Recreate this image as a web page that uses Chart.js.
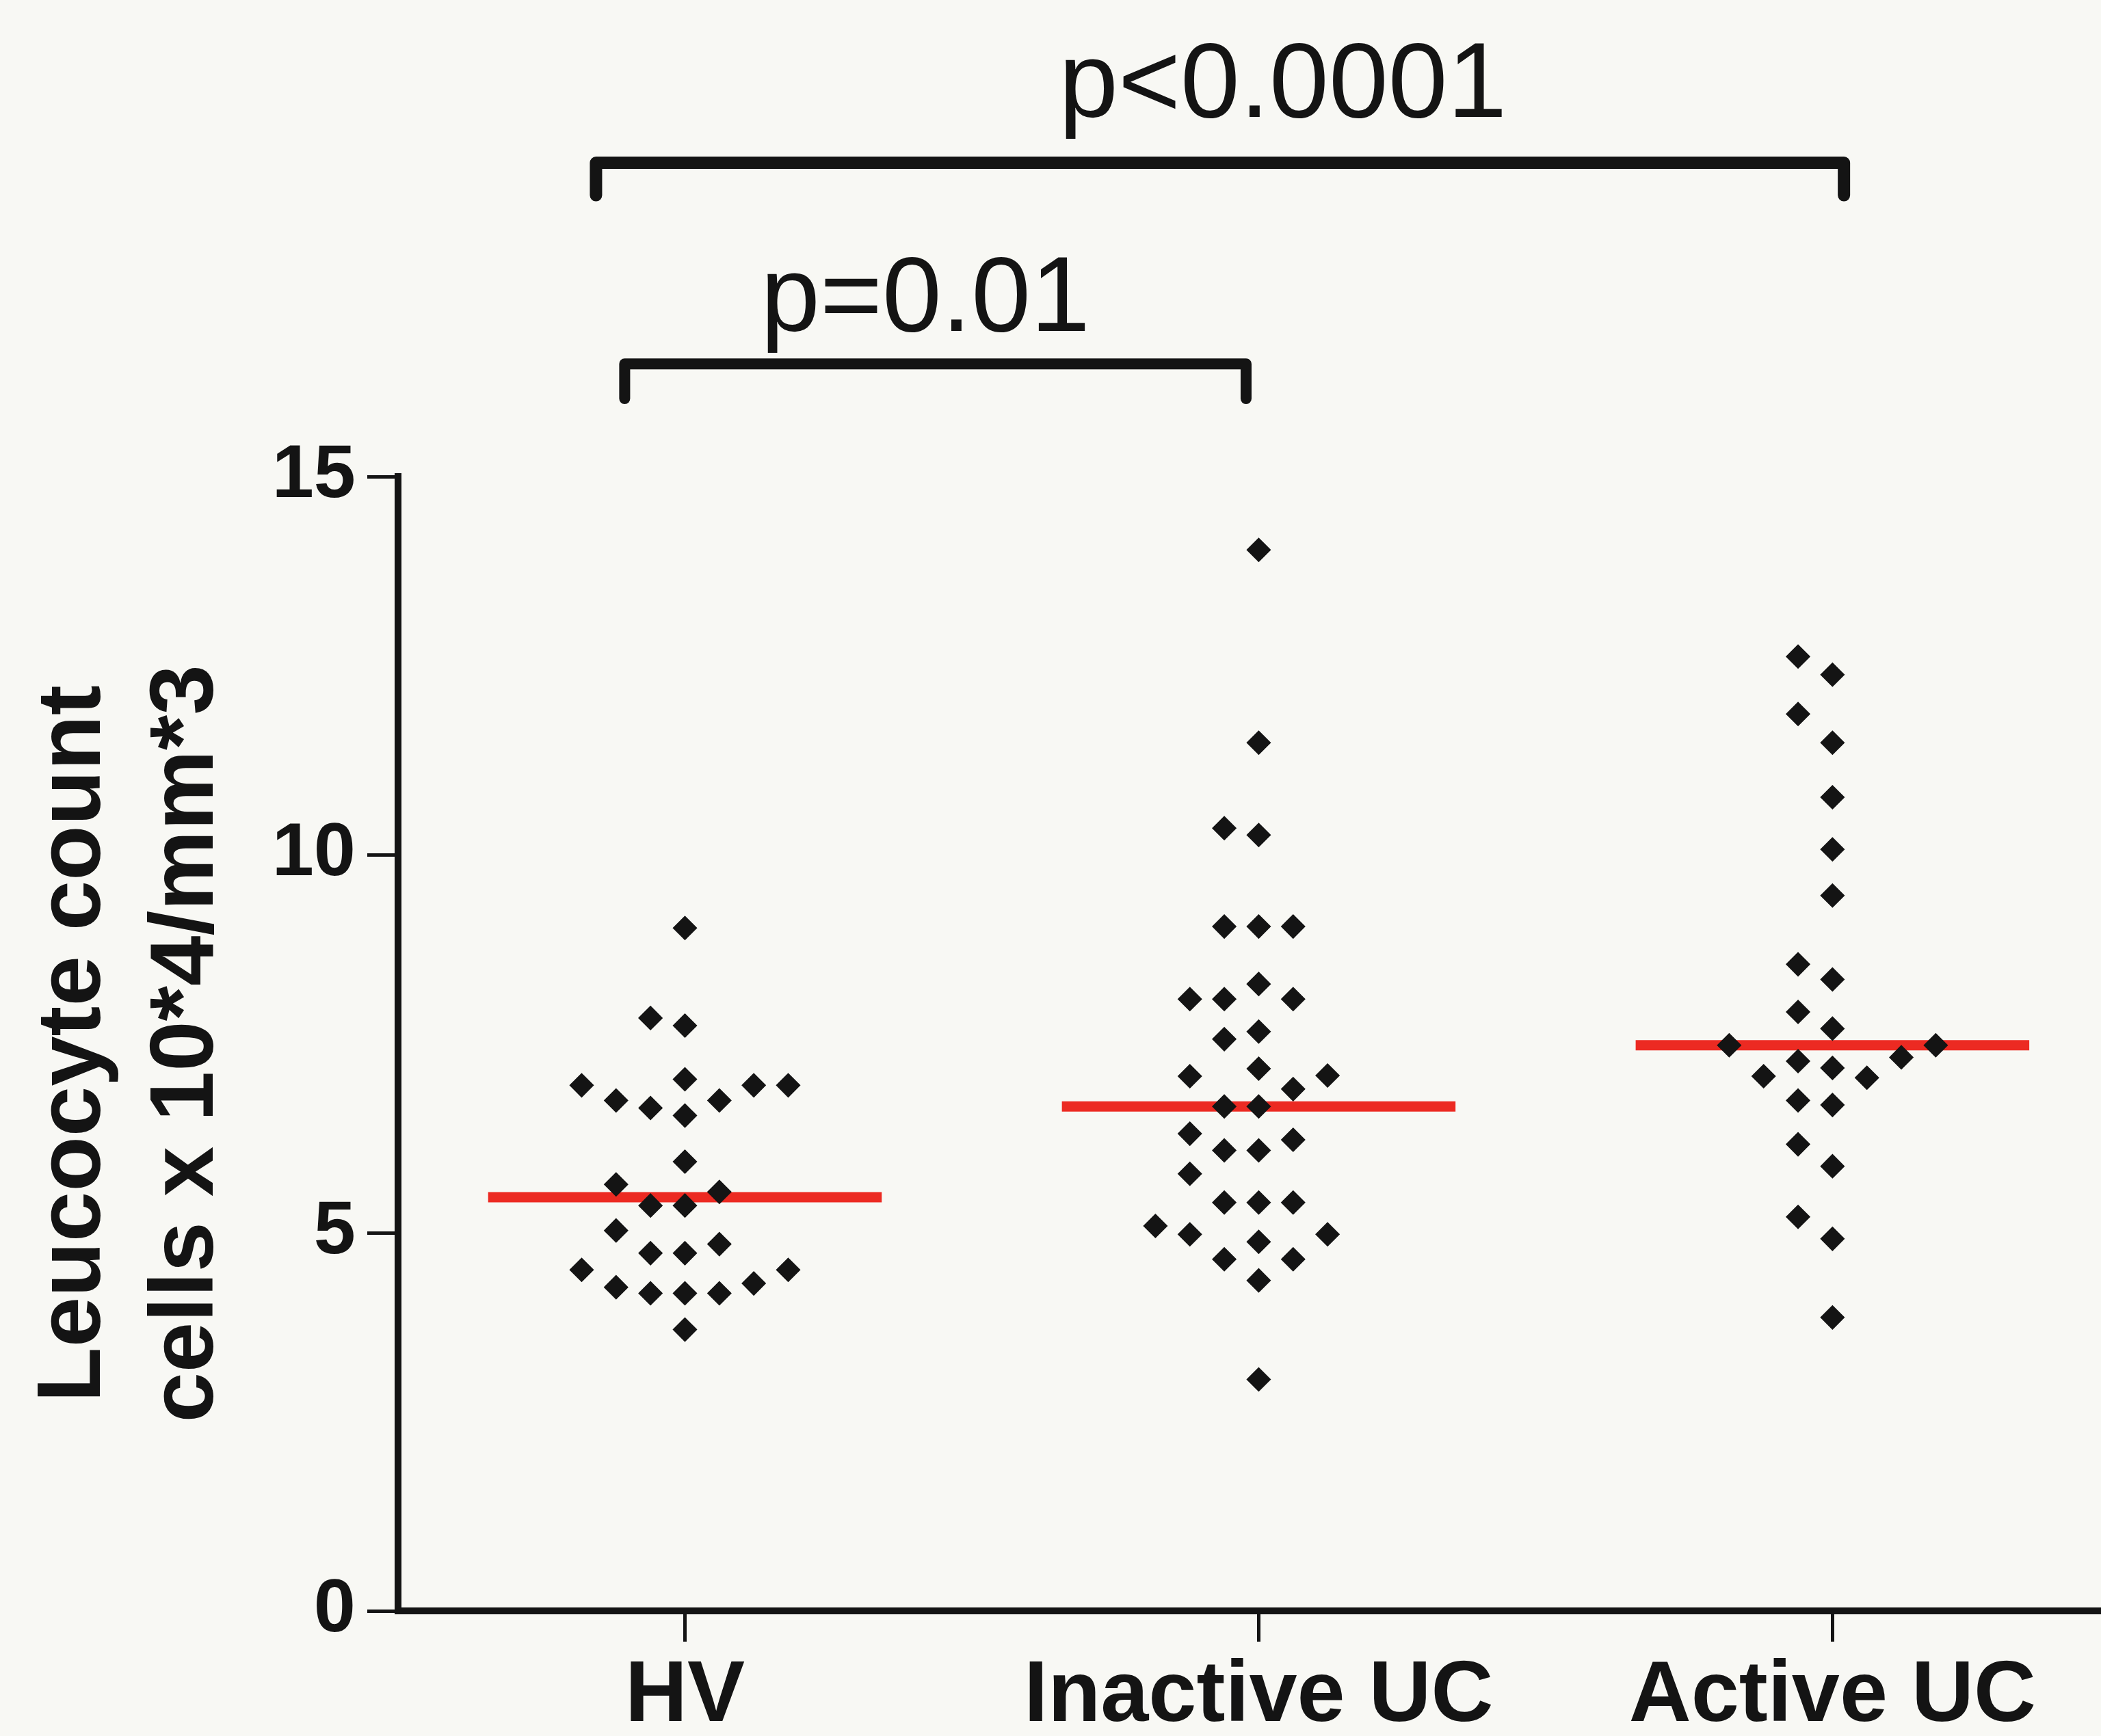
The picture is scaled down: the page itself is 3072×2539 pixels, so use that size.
<!DOCTYPE html>
<html>
<head>
<meta charset="utf-8">
<script src="https://cdn.jsdelivr.net/npm/chart.js@4.4.1/dist/chart.umd.min.js"></script>
<style>
  html, body { margin: 0; padding: 0; background: #f8f8f4; }
  #wrap { width: 3072px; height: 2539px; }
</style>
</head>
<body>
<div id="wrap"><canvas id="chart" width="3072" height="2539"></canvas></div>
<script>
// values (cells x 10^4/mm^3)
var categories = ['HV', 'Inactive UC', 'Active UC'];
var hvValues = [9.03, 7.84, 7.74, 6.95, 7.03, 6.95, 6.95, 6.75, 6.75, 6.65, 6.55, 5.94, 5.64, 5.54,
  5.36, 5.36, 5.03, 4.85, 4.73, 4.73, 4.51, 4.51, 4.28, 4.20, 4.20, 4.20, 4.33, 3.72];
var inactiveValues = [14.03, 11.48, 10.26, 10.35, 9.05, 9.05, 9.05, 8.29, 8.09, 8.09, 8.09, 7.66, 7.56,
  7.07, 7.17, 7.08, 6.90, 6.67, 6.67, 6.31, 6.23, 6.09, 6.09, 5.78, 5.40, 5.40, 5.40, 5.09, 4.98, 4.88,
  4.98, 4.65, 4.65, 4.37, 3.06];
var activeValues = [12.62, 12.38, 11.86, 11.48, 10.76, 10.07, 9.46, 8.55, 8.35, 7.92, 7.70, 7.48, 7.48,
  7.32, 7.18, 7.27, 7.07, 7.05, 6.75, 6.69, 6.17, 5.88, 5.21, 4.92, 3.88];
var medians = [5.47, 6.67, 7.48];
var yTicks = [0, 5, 10, 15];

// significance brackets (x in category units, y in axis units)
var pLabels = ['p<0.0001', 'p=0.01'];
var brackets = [
  { from: 0.845, to: 3.02, top: 19.15, foot: 18.72, lx: 2.042, ly: 19.76, width: 18 },
  { from: 0.895, to: 1.978, top: 16.49, foot: 16.03, lx: 1.419, ly: 16.93, width: 16 }
];

var ink = '#141414';
var red = '#ec2a22';
var colStep = 0.06;   // horizontal spacing of swarm columns
var minGap = 0.45;    // vertical room a point needs inside one column
var halfLine = 0.343; // half length of median bar

// simple beeswarm: each point takes the nearest free column
function swarm(values, center) {
  var sorted = values.slice().sort(function(a, b) { return a - b; });
  var cols = {};
  var order = [0, -1, 1, -2, 2, -3, 3, -4, 4, -5, 5];
  return sorted.map(function(v) {
    for (var i = 0; i < order.length; i++) {
      var c = order[i];
      var used = cols[c] || [];
      var clash = used.some(function(u) { return Math.abs(u - v) < minGap; });
      if (!clash) {
        used.push(v);
        cols[c] = used;
        return { x: center + c * colStep, y: v };
      }
    }
    return { x: center, y: v };
  });
}

function pointSet(values, center) {
  return {
    data: swarm(values, center),
    pointStyle: 'rectRot',
    pointRadius: 17,
    pointBorderWidth: 1.5,
    backgroundColor: ink,
    borderColor: ink,
    order: 0
  };
}

function medianSet(i) {
  return {
    data: [{ x: i + 1 - halfLine, y: medians[i] }, { x: i + 1 + halfLine, y: medians[i] }],
    showLine: true,
    borderColor: red,
    borderWidth: 15,
    pointRadius: 0,
    order: 1
  };
}

var bgPlugin = {
  id: 'bg',
  beforeDraw: function(chart) {
    var c = chart.ctx;
    c.save();
    c.fillStyle = '#f8f8f4';
    c.fillRect(0, 0, chart.width, chart.height);
    c.restore();
  }
};

var bracketPlugin = {
  id: 'brackets',
  afterDraw: function(chart) {
    var c = chart.ctx;
    var sx = chart.scales.x, sy = chart.scales.y;
    c.save();
    c.strokeStyle = ink;
    c.fillStyle = ink;
    c.lineCap = 'round';
    c.lineJoin = 'round';
    brackets.forEach(function(b, i) {
      c.lineWidth = b.width;
      c.beginPath();
      c.moveTo(sx.getPixelForValue(b.from), sy.getPixelForValue(b.foot));
      c.lineTo(sx.getPixelForValue(b.from), sy.getPixelForValue(b.top));
      c.lineTo(sx.getPixelForValue(b.to), sy.getPixelForValue(b.top));
      c.lineTo(sx.getPixelForValue(b.to), sy.getPixelForValue(b.foot));
      c.stroke();
      c.font = '156px "Liberation Sans", Arial, sans-serif';
      c.textAlign = 'center';
      c.textBaseline = 'alphabetic';
      c.fillText(pLabels[i], sx.getPixelForValue(b.lx), sy.getPixelForValue(b.ly));
    });
    c.restore();
  }
};

var chart = new Chart(document.getElementById('chart').getContext('2d'), {
  type: 'scatter',
  data: {
    datasets: [
      medianSet(0), medianSet(1), medianSet(2),
      pointSet(hvValues, 1), pointSet(inactiveValues, 2), pointSet(activeValues, 3)
    ]
  },
  options: {
    responsive: false,
    animation: false,
    devicePixelRatio: 1,
    layout: { autoPadding: false, padding: { top: 697, right: 0, bottom: 0, left: 0 } },
    plugins: { legend: { display: false }, tooltip: { enabled: false } },
    scales: {
      x: {
        type: 'linear',
        min: 0.5,
        max: 3.468,
        afterBuildTicks: function(s) {
          s.ticks = [1, 2, 3].map(function(v) { return { value: v }; });
        },
        afterFit: function(s) { s.height = 183; },
        ticks: {
          callback: function(v, i) { return categories[i]; },
          font: { family: '"Liberation Sans", Arial, sans-serif', size: 126, weight: 'bold' },
          color: ink,
          padding: 6,
          autoSkip: false,
          maxRotation: 0
        },
        grid: { drawOnChartArea: false, drawTicks: true, tickLength: 45, tickWidth: 5, tickColor: ink },
        border: { display: true, width: 10, color: ink }
      },
      y: {
        min: 0,
        max: 15,
        afterBuildTicks: function(s) {
          s.ticks = yTicks.map(function(v) { return { value: v }; });
        },
        afterFit: function(s) { s.width = 582; },
        ticks: {
          font: { family: '"Liberation Sans", Arial, sans-serif', size: 110, weight: 'bold' },
          color: ink,
          padding: 17
        },
        grid: { drawOnChartArea: false, drawTicks: true, tickLength: 45, tickWidth: 5, tickColor: ink },
        border: { display: true, width: 10, color: ink },
        title: {
          display: true,
          text: ['Leucocyte count', 'cells x 10*4/mm*3'],
          font: { family: '"Liberation Sans", Arial, sans-serif', size: 132, weight: 'bold', lineHeight: 1.25 },
          color: ink,
          padding: { top: 27, bottom: 0 }
        }
      }
    }
  },
  plugins: [bgPlugin, bracketPlugin]
});
</script>
</body>
</html>
